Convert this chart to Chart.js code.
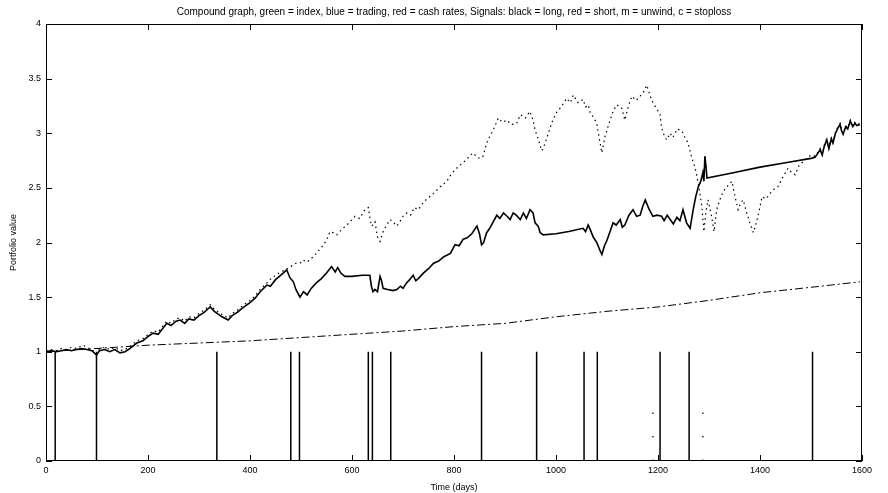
<!DOCTYPE html>
<html>
<head>
<meta charset="utf-8">
<script src="https://cdn.jsdelivr.net/npm/chart.js@4/dist/chart.umd.min.js"></script>
<style>
  html, body { margin: 0; padding: 0; background: #fff; }
  #wrap { width: 888px; height: 493px; }
</style>
</head>
<body>
<div id="wrap"><canvas id="c" width="888" height="493"></canvas></div>
<script>
// Trading strategy equity (compounded portfolio value)
const tradingDays = [0,10,20,30,40,50,60,70,80,90,99,105,115,125,135,145,155,165,178,190,200,210,220,230,237,245,255,263,272,280,290,300,310,322,330,345,357,365,375,385,400,410,420,433,440,450,460,472,478,485,490,498,505,512,520,530,540,550,560,567,572,578,586,600,620,635,638,641,645,650,655,658,661,670,680,688,695,700,707,713,720,725,730,740,750,760,770,780,793,802,810,818,825,835,845,850,854,858,864,870,877,884,890,897,904,910,916,922,930,936,942,949,955,959,965,969,975,1000,1025,1053,1058,1063,1067,1073,1080,1086,1090,1095,1100,1106,1112,1118,1126,1130,1135,1143,1151,1158,1165,1170,1175,1182,1190,1198,1207,1212,1218,1224,1230,1237,1243,1249,1256,1263,1269,1274,1279,1283,1286,1288,1290,1292,1294,1296,1350,1400,1450,1500,1508,1514,1518,1522,1526,1531,1535,1540,1543,1548,1553,1557,1560,1563,1568,1572,1577,1582,1586,1590,1596];
const tradingValues = [1.00,1.01,1.00,1.01,1.02,1.01,1.02,1.03,1.02,1.01,0.97,1.01,1.02,1.00,1.02,0.99,1.00,1.03,1.08,1.10,1.14,1.17,1.16,1.22,1.26,1.24,1.28,1.29,1.26,1.30,1.29,1.33,1.36,1.41,1.37,1.32,1.29,1.33,1.36,1.40,1.45,1.49,1.55,1.61,1.60,1.66,1.70,1.75,1.68,1.64,1.57,1.50,1.55,1.52,1.58,1.63,1.67,1.72,1.78,1.73,1.77,1.72,1.69,1.69,1.70,1.70,1.60,1.55,1.57,1.55,1.69,1.65,1.58,1.57,1.56,1.57,1.60,1.58,1.63,1.66,1.70,1.65,1.67,1.72,1.76,1.81,1.83,1.87,1.90,1.98,1.97,2.03,2.04,2.08,2.15,2.08,1.98,2.00,2.09,2.13,2.19,2.25,2.22,2.27,2.24,2.21,2.27,2.25,2.21,2.27,2.22,2.30,2.27,2.18,2.15,2.09,2.07,2.08,2.10,2.13,2.10,2.16,2.12,2.05,2.00,1.93,1.89,1.97,2.02,2.10,2.18,2.16,2.21,2.14,2.16,2.25,2.30,2.24,2.25,2.33,2.39,2.31,2.24,2.25,2.24,2.20,2.25,2.21,2.17,2.23,2.20,2.30,2.18,2.13,2.30,2.42,2.51,2.55,2.60,2.64,2.56,2.79,2.70,2.59,2.64,2.69,2.73,2.77,2.78,2.82,2.85,2.80,2.88,2.94,2.86,2.95,2.91,3.00,3.05,3.08,3.02,2.99,3.06,3.04,3.11,3.06,3.09,3.07,3.08];

// Market index, compounded
const indexDays = [0,10,20,30,40,50,60,73,80,90,99,105,115,125,135,145,155,165,178,190,200,210,220,230,237,245,255,263,272,280,290,300,310,322,330,345,357,365,375,385,400,410,420,433,439,450,460,469,480,490,498,504,512,524,530,541,550,557,563,570,580,590,598,606,615,625,632,636,639,645,650,655,661,668,675,682,688,695,700,707,715,722,730,740,750,760,773,786,795,805,815,825,832,838,845,851,857,864,870,877,887,895,904,912,923,930,940,949,955,959,965,972,978,985,992,1001,1010,1021,1028,1034,1043,1047,1053,1058,1063,1067,1073,1080,1085,1090,1096,1106,1112,1119,1129,1135,1142,1149,1157,1165,1172,1178,1184,1190,1198,1204,1207,1212,1217,1224,1229,1238,1247,1253,1259,1266,1273,1279,1286,1290,1294,1298,1305,1310,1315,1322,1328,1337,1345,1351,1357,1362,1367,1374,1380,1387,1392,1396,1404,1412,1420,1428,1435,1445,1455,1462,1469,1476,1482,1492,1500,1508,1514,1518,1522,1526,1531,1535,1540,1543,1548,1553,1557,1560,1563,1568,1572,1577,1582,1586,1590,1596];
const indexValues = [1.01,1.02,1.01,1.03,1.02,1.04,1.03,1.06,1.04,1.02,0.98,1.03,1.04,1.02,1.04,1.01,1.02,1.05,1.10,1.12,1.16,1.19,1.18,1.24,1.28,1.26,1.30,1.31,1.28,1.32,1.31,1.35,1.38,1.43,1.39,1.34,1.31,1.35,1.38,1.42,1.47,1.51,1.57,1.63,1.66,1.70,1.73,1.75,1.78,1.81,1.81,1.84,1.82,1.87,1.90,1.96,2.02,2.10,2.09,2.07,2.12,2.16,2.20,2.24,2.22,2.30,2.32,2.20,2.15,2.19,2.05,2.01,2.10,2.16,2.21,2.18,2.15,2.20,2.24,2.27,2.25,2.32,2.30,2.37,2.41,2.45,2.51,2.56,2.63,2.68,2.72,2.76,2.80,2.82,2.78,2.77,2.79,2.91,2.97,3.03,3.14,3.10,3.12,3.08,3.09,3.17,3.14,3.20,3.12,3.03,2.95,2.84,2.90,3.00,3.10,3.19,3.24,3.32,3.28,3.35,3.28,3.29,3.31,3.24,3.26,3.19,3.15,3.09,2.95,2.82,2.97,3.12,3.20,3.26,3.23,3.12,3.25,3.34,3.30,3.34,3.38,3.44,3.35,3.28,3.22,3.17,3.05,2.98,2.94,3.00,2.96,3.04,3.02,2.96,2.91,2.78,2.68,2.54,2.33,2.10,2.28,2.39,2.24,2.10,2.30,2.40,2.47,2.52,2.56,2.42,2.30,2.36,2.39,2.27,2.18,2.09,2.17,2.24,2.42,2.40,2.45,2.49,2.51,2.60,2.68,2.64,2.62,2.70,2.73,2.77,2.80,2.79,2.83,2.86,2.81,2.89,2.95,2.87,2.96,2.92,3.01,3.06,3.09,3.03,3.00,3.07,3.05,3.12,3.07,3.10,3.08,3.09];

// Cash (money market) rate, compounded
const cashDays = [0,100,200,300,400,500,600,700,800,900,1000,1100,1200,1300,1400,1500,1596];
const cashValues = [1.00,1.03,1.06,1.08,1.10,1.13,1.16,1.19,1.23,1.26,1.32,1.37,1.41,1.47,1.54,1.59,1.64];

// Trade signals (days on which a position is opened or closed)
const signalDays = [18,99,335,480,497,632,640,676,854,962,1055,1081,1204,1261,1503];
// Unwind markers
const unwindDays = [1190,1288];

const xTicks = [0,200,400,600,800,1000,1200,1400,1600];
const yTicks = [0,0.5,1,1.5,2,2.5,3,3.5,4];

const titleText = 'Compound graph, green = index, blue = trading, red = cash rates, Signals: black = long, red = short, m = unwind, c = stoploss';

const toXY = (xs, ys) => xs.map((d, i) => ({ x: d, y: ys[i] }));

const signalPoints = [{ x: 0, y: 0 }];
signalDays.forEach(d => signalPoints.push({ x: d, y: 0 }, { x: d, y: 1 }, { x: d, y: 0 }));
signalPoints.push({ x: 1596, y: 0 });

const unwindPoints = [];
unwindDays.forEach(d => unwindPoints.push({ x: d, y: 0 }, { x: d, y: 0.45 }, { x: NaN, y: NaN }));

const FONT = 'Liberation Sans, Arial, Helvetica, sans-serif';

// Box around the axes with inward tick marks on all four sides, title centred over the axes
const framePlugin = {
  id: 'frame',
  afterDatasetsDraw(chart) {
    const { ctx, chartArea: a, scales: { x, y } } = chart;
    ctx.save();
    ctx.strokeStyle = '#000';
    ctx.lineWidth = 1;
    ctx.strokeRect(Math.round(a.left) + 0.5, Math.round(a.top) + 0.5,
                   Math.round(a.right - a.left) - 1, Math.round(a.bottom - a.top) - 1);
    const L = 6;
    ctx.beginPath();
    xTicks.forEach(v => {
      const px = Math.round(x.getPixelForValue(v)) + 0.5;
      ctx.moveTo(px, a.bottom); ctx.lineTo(px, a.bottom - L);
      ctx.moveTo(px, a.top); ctx.lineTo(px, a.top + L);
    });
    yTicks.forEach(v => {
      const py = Math.round(y.getPixelForValue(v)) + 0.5;
      ctx.moveTo(a.left, py); ctx.lineTo(a.left + L, py);
      ctx.moveTo(a.right, py); ctx.lineTo(a.right - L, py);
    });
    ctx.stroke();

    ctx.fillStyle = '#000';
    ctx.font = '10px ' + FONT;
    ctx.textAlign = 'center';
    ctx.textBaseline = 'middle';
    ctx.fillText(titleText, (a.left + a.right) / 2, 12);
    ctx.restore();
  }
};

new Chart(document.getElementById('c'), {
  type: 'line',
  data: {
    datasets: [
      { label: 'cash', data: toXY(cashDays, cashValues), borderColor: '#000', borderWidth: 1, borderDash: [8, 3, 2, 3] },
      { label: 'index', data: toXY(indexDays, indexValues), borderColor: '#000', borderWidth: 1.2, borderDash: [1.5, 3.5] },
      { label: 'trading', data: toXY(tradingDays, tradingValues), borderColor: '#000', borderWidth: 1.6 },
      { label: 'signals', data: signalPoints, borderColor: '#000', borderWidth: 1.5 },
      { label: 'unwind', data: unwindPoints, borderColor: '#000', borderWidth: 1.2, borderDash: [1.5, 22], spanGaps: false }
    ]
  },
  options: {
    responsive: false,
    devicePixelRatio: 1,
    animation: false,
    elements: { point: { radius: 0 }, line: { tension: 0 } },
    layout: { padding: { left: 0, right: 26, top: 24, bottom: 0 } },
    plugins: {
      legend: { display: false },
      tooltip: { enabled: false },
      title: { display: false }
    },
    scales: {
      x: {
        type: 'linear',
        min: 0, max: 1600,
        grid: { display: false, drawTicks: false },
        border: { display: false },
        afterFit(s) { s.height = 32; },
        afterBuildTicks(s) { s.ticks = xTicks.map(v => ({ value: v })); },
        ticks: { color: '#000', font: { family: FONT, size: 9 }, padding: 4, maxRotation: 0, autoSkip: false,
                 callback: v => String(v) },
        title: { display: true, text: 'Time (days)', color: '#000', font: { family: FONT, size: 9 }, padding: { top: 1, bottom: 0 } }
      },
      y: {
        type: 'linear',
        min: 0, max: 4,
        grid: { display: false, drawTicks: false },
        border: { display: false },
        afterFit(s) { s.width = 46; },
        afterBuildTicks(s) { s.ticks = yTicks.map(v => ({ value: v })); },
        ticks: { color: '#000', font: { family: FONT, size: 9 }, padding: 5, autoSkip: false,
                 callback: v => String(v) },
        title: { display: true, text: 'Portfolio value', color: '#000', font: { family: FONT, size: 9 }, padding: { top: 8, bottom: 0 } }
      }
    }
  },
  plugins: [framePlugin]
});
</script>
</body>
</html>
